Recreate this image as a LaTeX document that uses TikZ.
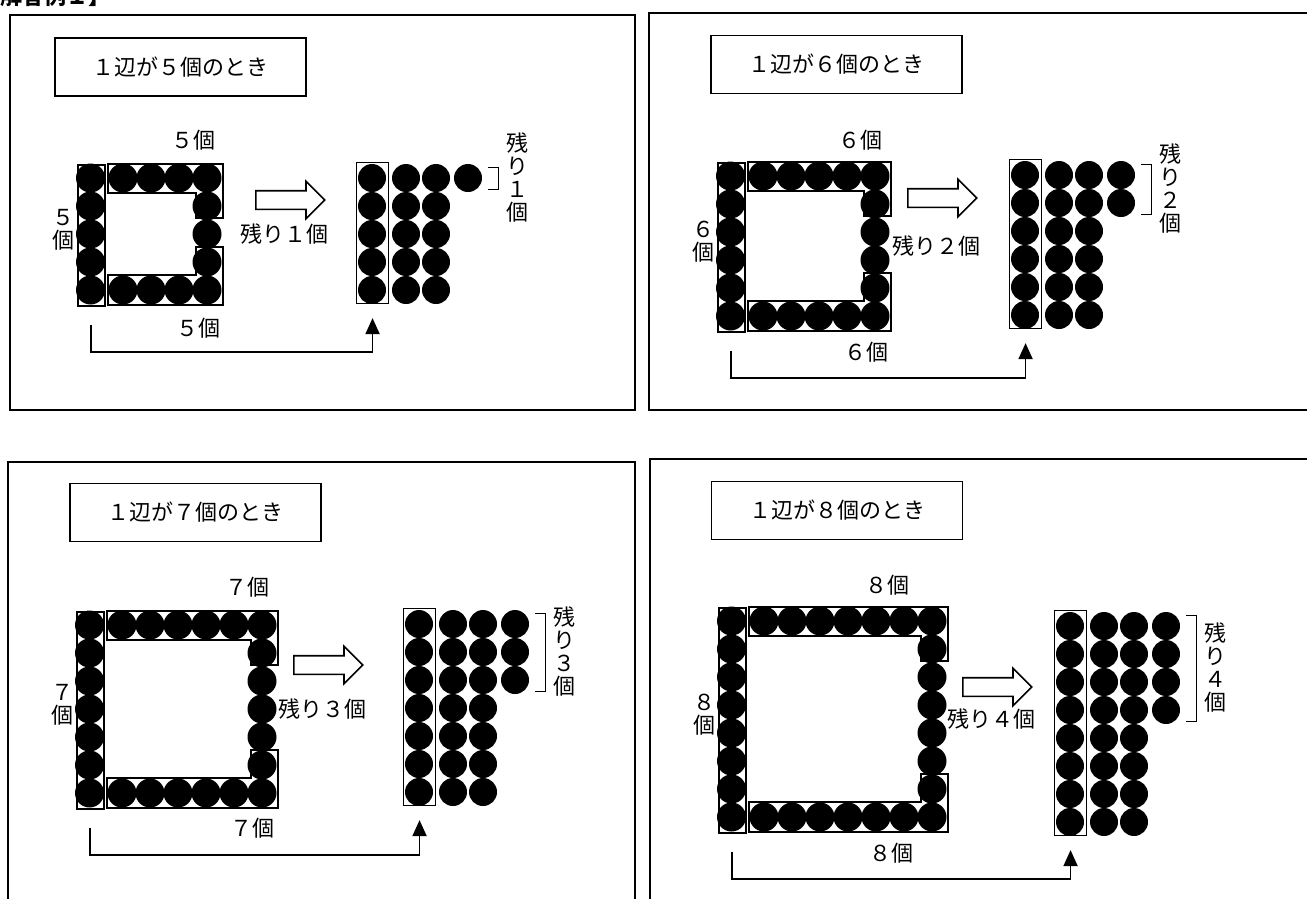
\documentclass[tikz,border=0pt]{standalone}
\usepackage{fontspec}
\setmainfont{Noto Sans CJK JP}
\usetikzlibrary{arrows.meta,calc,shapes.arrows}
\newcommand{\jpsize}{\fontsize{22}{23}\selectfont}
\newcommand{\zen}[1]{\ifcase#1 ０\or １\or ２\or ３\or ４\or ５\or ６\or ７\or ８\or ９\fi}
% one case: tag, side n, ring corner, stack corner, arrow tail
\newcommand{\ringcase}[8]{%
  \pgfmathtruncatemacro{\side}{#2-2}%
  \pgfmathtruncatemacro{\rest}{#2-4}%
  \pgfmathsetmacro{\rx}{#3+28*#2-10}%
  \pgfmathsetmacro{\yb}{#4+28*#2+1}%
  \pgfmathsetmacro{\ym}{#4+14*#2}%
  % ring of beads
  \node[ringbox,minimum width=27pt,minimum height=28*#2+1,anchor=north west] (#1-col) at (#3,#4) {};
  \draw[ringline] (#3+31,#4) -- (\rx+16,#4) -- (\rx+16,#4+54) -- (\rx-11,#4+54)
    -- (\rx-11,#4+29) -- (#3+31,#4+29) -- cycle;
  \draw[ringline] (#3+31,\yb) -- (\rx+16,\yb) -- (\rx+16,\yb-58) -- (\rx-11,\yb-58)
    -- (\rx-11,\yb-30) -- (#3+31,\yb-30) -- cycle;
  \foreach \i in {1,...,#2} \fill[bead] (#3+13.5,#4-14+28*\i) circle[radius=14.5];
  \foreach \k in {0,...,\side} {
    \fill[bead] (#3+46+28*\k,#4+14) circle[radius=14.5];
    \fill[bead] (#3+46+28*\k,\yb-15) circle[radius=14.5];
  }
  \foreach \j in {1,...,\side} \fill[bead] (\rx,#4+14+28*\j) circle[radius=14.5];
  \node[sidetext] (#1-side) at (#3-14,\ym-4) {\zen{#2}\\個};
  % arrow and what is left over
  \node[hollow] (#1-arrow) at (#7,#8) {};
  \node[numtext,anchor=west] (#1-rest) at (#7-15,\ym) {残り\zen{\rest}個};
  % beads regrouped
  \node[stackbox,minimum width=32pt,minimum height=28*#2+1,anchor=north west] (#1-stack) at (#5,#6) {};
  \foreach \i in {1,...,#2} {
    \fill[bead] (#5+16,#6-12+28*\i) circle[radius=14];
    \fill[bead] (#5+50,#6-12+28*\i) circle[radius=14];
    \fill[bead] (#5+80,#6-12+28*\i) circle[radius=14];
  }
  \foreach \i in {1,...,\rest} \fill[bead] (#5+112,#6-12+28*\i) circle[radius=14];
  \draw[bracketline] (#5+132,#6+5) -- (#5+142,#6+5) -- (#5+142,#6+28*\rest-1) -- (#5+132,#6+28*\rest-1);
  \node[sidetext] (#1-note) at (#5+161,#6+2+14*\rest) {残\\り\\\zen{\rest}\\個};
  % left column moves over
  \coordinate (#1-from) at ([yshift=-18pt]#1-col.south);
  \coordinate (#1-to) at ([yshift=-14pt]#1-stack.south);
  \draw[link] (#1-from) -- ++(0,27) -| (#1-to);
}

\begin{document}
\begin{tikzpicture}[x=1pt,y=-1pt,
  panelframe/.style={draw,line width=1.8pt},
  titlebox/.style={draw,line width=1.1pt,minimum width=251pt,minimum height=58pt,
    inner sep=0pt,font=\jpsize},
  numtext/.style={inner sep=0pt,font=\jpsize},
  sidetext/.style={inner sep=0pt,align=center,font=\jpsize},
  ringbox/.style={draw,line width=1.6pt,inner sep=0pt},
  ringline/.style={line width=1.6pt},
  stackbox/.style={draw,line width=1.1pt,inner sep=0pt},
  bead/.style={fill=black},
  bracketline/.style={line width=1pt},
  hollow/.style={single arrow,draw,line width=1.6pt,fill=white,inner xsep=0pt,inner ysep=8.5pt,
    minimum height=69pt,single arrow head extend=9.5pt,anchor=tail},
  link/.style={-{Triangle[length=16pt,width=14pt]},line width=1.8pt}
]
\useasboundingbox (0,0) rectangle (1307,898);
\clip (0,0) rectangle (1307,898);

\node[anchor=base west,inner sep=0pt,font=\bfseries\jpsize] (head) at (-22,4) {【解答例１】};

% four frames
\draw[panelframe] (10,15) rectangle (635,410);
\draw[panelframe] (649,13) rectangle (1330,410);
\draw[panelframe] (8,462) rectangle (635,920);
\draw[panelframe] (650,459) rectangle (1330,920);

\node[titlebox] (t5) at (180.5,67) {１辺が５個のとき};
\node[titlebox] (t6) at (836.5,64.5) {１辺が６個のとき};
\node[titlebox] (t7) at (195.5,512.5) {１辺が７個のとき};
\node[titlebox] (t8) at (837,510.5) {１辺が８個のとき};

\ringcase{a}{5}{77}{164}{356}{162}{255}{200}
\ringcase{b}{6}{717}{162}{1009}{159}{907}{198}
\ringcase{c}{7}{76}{611}{403}{608}{293}{665}
\ringcase{d}{8}{718}{607}{1054}{610}{962}{687}

\node[numtext] (a-top) at (193,140) {５個};
\node[numtext] (a-bot) at (198,328) {５個};
\node[numtext] (b-top) at (860,140) {６個};
\node[numtext] (b-bot) at (866,352) {６個};
\node[numtext] (c-top) at (247,587) {７個};
\node[numtext] (c-bot) at (252,828) {７個};
\node[numtext] (d-top) at (887,585) {８個};
\node[numtext] (d-bot) at (891,853) {８個};
\end{tikzpicture}
\end{document}
